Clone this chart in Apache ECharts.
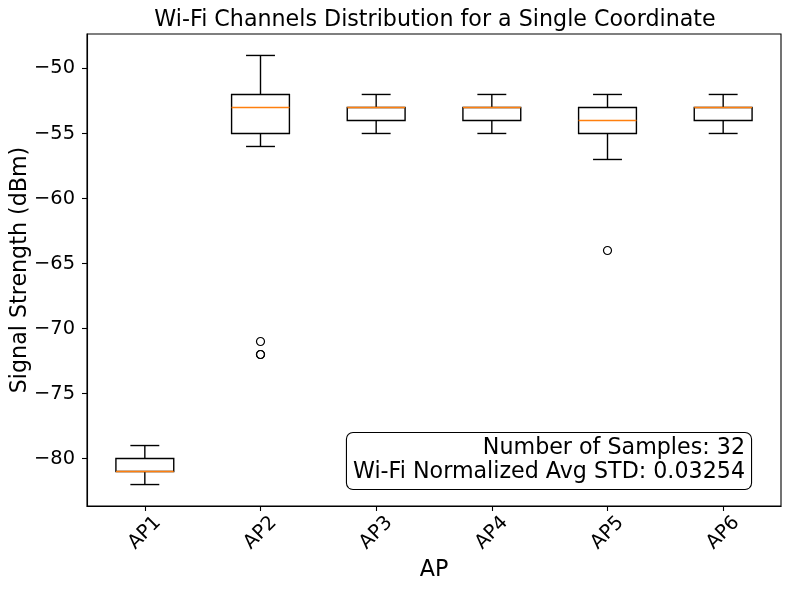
<!DOCTYPE html>
<html>
<head>
<meta charset="utf-8">
<script src="https://cdn.jsdelivr.net/npm/echarts@6/dist/echarts.min.js"></script>
<style>html,body{margin:0;padding:0;background:#fff}#c{width:790px;height:590px}</style>
</head>
<body>
<div id="c"></div>
<script>
var categories = ['AP1', 'AP2', 'AP3', 'AP4', 'AP5', 'AP6'];
var whiskerLow = [-82, -56, -55, -55, -57, -55];
var q1 = [-81, -55, -54, -54, -55, -54];
var median = [-81, -53, -53, -53, -54, -53];
var q3 = [-80, -52, -53, -53, -53, -53];
var whiskerHigh = [-79, -49, -52, -52, -52, -52];
var outliers = [[1, -71], [1, -72], [1, -72], [4, -64]];
var yTicks = [-80, -75, -70, -65, -60, -55, -50];
var yMin = -83.65, yMax = -47.35;
var titleText = 'Wi-Fi Channels Distribution for a Single Coordinate';
var noteText = 'Number of Samples: 32\nWi-Fi Normalized Avg STD: 0.03254';

var boxData = categories.map(function (c, i) {
  return [i, whiskerLow[i], q1[i], median[i], q3[i], whiskerHigh[i]];
});

var FONT = 'DejaVu Sans';
var chart = echarts.init(document.getElementById('c'));
chart.setOption({
  animation: false,
  backgroundColor: '#fff',
  title: {
    text: titleText, left: 430, top: 4, textAlign: 'center',
    textStyle: { fontFamily: FONT, fontSize: 22.2, fontWeight: 'normal', color: '#000' }
  },
  grid: { left: 87, right: 9, top: 34, bottom: 84, containLabel: false, outerBoundsMode: 'none', show: true, borderColor: '#000', borderWidth: 1.1, backgroundColor: 'transparent' },
  xAxis: {
    type: 'category', data: categories, boundaryGap: true,
    name: 'AP', nameLocation: 'middle', nameGap: 53, nameMoveOverlap: false,
    nameTextStyle: { fontFamily: FONT, fontSize: 22.2, color: '#000' },
    axisLine: { show: true, lineStyle: { color: '#000', width: 1.1 } },
    axisTick: { show: true, alignWithLabel: true, length: 5, lineStyle: { color: '#000', width: 1.1 } },
    axisLabel: { rotate: 45, align: 'center', verticalAlign: 'middle', margin: 27, fontFamily: FONT, fontSize: 19.4, color: '#000' },
    splitLine: { show: false }
  },
  yAxis: {
    type: 'value', min: yMin, max: yMax,
    name: 'Signal Strength (dBm)', nameLocation: 'middle', nameGap: 56, nameRotate: 90, nameMoveOverlap: false,
    nameTextStyle: { fontFamily: FONT, fontSize: 22.2, color: '#000' },
    axisLine: { show: true, lineStyle: { color: '#000', width: 1.1 } },
    axisTick: { show: true, length: 5, customValues: yTicks, lineStyle: { color: '#000', width: 1.1 } },
    axisLabel: {
      customValues: yTicks, margin: 12, fontFamily: FONT, fontSize: 19.4, color: '#000',
      formatter: function (v) { return String(v).replace('-', '\u2212'); }
    },
    splitLine: { show: false }
  },
  series: [{
    type: 'custom',
    data: boxData,
    encode: { x: 0, y: [1, 2, 3, 4, 5] },
    renderItem: function (params, api) {
      var x = api.value(0);
      var band = api.size([1, 0])[0];
      var hw = band * 0.25, cw = band * 0.125;
      var pLow = api.coord([x, api.value(1)]);
      var pQ1 = api.coord([x, api.value(2)]);
      var pMed = api.coord([x, api.value(3)]);
      var pQ3 = api.coord([x, api.value(4)]);
      var pHigh = api.coord([x, api.value(5)]);
      var cx = pQ1[0];
      var ls = { stroke: '#000', lineWidth: 1.4, fill: null };
      return {
        type: 'group',
        children: [
          { type: 'line', shape: { x1: cx, y1: pQ1[1], x2: cx, y2: pLow[1] }, style: ls },
          { type: 'line', shape: { x1: cx, y1: pQ3[1], x2: cx, y2: pHigh[1] }, style: ls },
          { type: 'line', shape: { x1: cx - cw, y1: pLow[1], x2: cx + cw, y2: pLow[1] }, style: ls },
          { type: 'line', shape: { x1: cx - cw, y1: pHigh[1], x2: cx + cw, y2: pHigh[1] }, style: ls },
          { type: 'rect', shape: { x: cx - hw, y: pQ3[1], width: hw * 2, height: pQ1[1] - pQ3[1] }, style: { stroke: '#000', lineWidth: 1.4, fill: 'none' } },
          { type: 'line', shape: { x1: cx - hw, y1: pMed[1], x2: cx + hw, y2: pMed[1] }, style: { stroke: '#ff7f0e', lineWidth: 1.4 }, z2: 10 }
        ]
      };
    }
  }, {
    type: 'scatter',
    data: outliers,
    symbol: 'circle', symbolSize: 8,
    itemStyle: { color: 'rgba(0,0,0,0)', borderColor: '#000', borderWidth: 1.2, opacity: 1 }
  }],
  graphic: [{
    type: 'text', x: 751, y: 433, z: 100,
    style: {
      text: noteText, align: 'right', verticalAlign: 'top', fontFamily: FONT, fontSize: 22.2, lineHeight: 24, fill: '#000',
      backgroundColor: '#fff', borderColor: '#000', borderWidth: 1.1, borderRadius: 6, padding: [3, 6, 5, 6]
    }
  }]
});
</script>
</body>
</html>
